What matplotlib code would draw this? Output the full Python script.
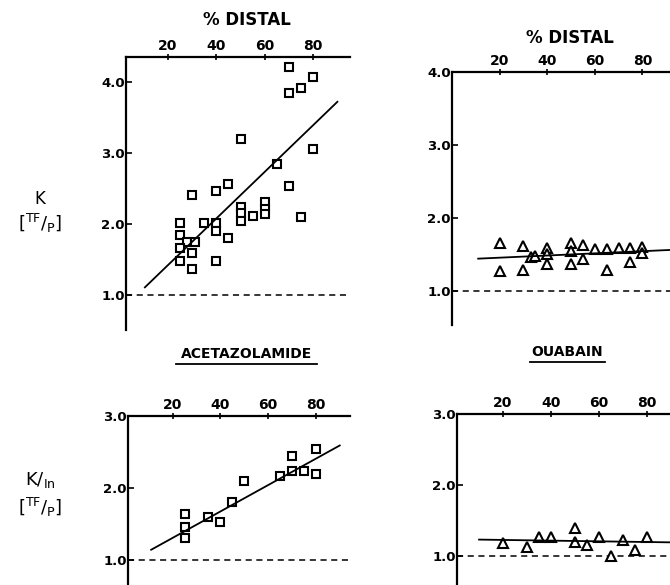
import numpy as np
import matplotlib.pyplot as plt
from matplotlib.lines import Line2D

# % distal vs K TF/P, control (squares)
ctl_x = [70, 80, 75, 70, 50, 80, 65, 70, 45, 40, 30, 60, 50, 50, 60, 60, 55, 50, 75,
         25, 35, 40, 40, 45, 25, 28, 31, 25, 30, 25, 40, 30]
ctl_y = [4.21, 4.07, 3.91, 3.85, 3.19, 3.05, 2.84, 2.53, 2.57, 2.47, 2.41, 2.31, 2.24, 2.15,
         2.21, 2.14, 2.11, 2.04, 2.10, 2.01, 2.02, 2.02, 1.90, 1.81, 1.85, 1.75, 1.75, 1.66,
         1.59, 1.48, 1.48, 1.37]
ctl_fit_x = [10.5, 90]
ctl_fit_y = [1.11, 3.72]

# % distal vs K TF/P (triangles)
trg_x = [20, 20, 30, 30, 33, 35, 40, 40, 40, 50, 50, 50, 55, 55, 60, 65, 65, 70, 75, 75, 80, 80]
trg_y = [1.66, 1.27, 1.61, 1.28, 1.46, 1.47, 1.59, 1.50, 1.37, 1.65, 1.54, 1.37, 1.63, 1.44,
         1.57, 1.57, 1.28, 1.59, 1.59, 1.40, 1.60, 1.52]
trg_fit_x = [11, 92]
trg_fit_y = [1.44, 1.56]

# acetazolamide, K/In TF/P
acz_x = [25, 25, 25, 35, 40, 45, 50, 65, 70, 70, 75, 80, 80]
acz_y = [1.64, 1.45, 1.31, 1.59, 1.53, 1.80, 2.09, 2.17, 2.45, 2.24, 2.24, 2.54, 2.19]
acz_fit_x = [11, 90]
acz_fit_y = [1.14, 2.59]

# ouabain, K/In TF/P
oua_x = [20, 30, 35, 40, 50, 50, 55, 60, 65, 70, 75, 80]
oua_y = [1.18, 1.13, 1.27, 1.27, 1.40, 1.19, 1.15, 1.27, 1.00, 1.22, 1.09, 1.26]
oua_fit_x = [10, 92]
oua_fit_y = [1.23, 1.19]

xticks = [20, 40, 60, 80]

W, H = 670, 585
fig = plt.figure(figsize=(6.7, 5.85), dpi=100)
plt.rcParams['font.family'] = ['DejaVu Sans']
plt.rcParams['mathtext.fontset'] = 'dejavusans'


def make_ax(left, top, right, bottom, xlim, ylim, yticks):
    ax = fig.add_axes([left / W, 1 - bottom / H, (right - left) / W, (bottom - top) / H])
    ax.set_xlim(*xlim)
    ax.set_ylim(*ylim)
    ax.spines['right'].set_visible(False)
    ax.spines['bottom'].set_visible(False)
    ax.spines['left'].set_linewidth(1.6)
    ax.spines['top'].set_linewidth(1.6)
    ax.xaxis.tick_top()
    ax.set_xticks(xticks)
    ax.set_yticks(yticks)
    ax.set_yticklabels(['%.1f' % v for v in yticks])
    ax.tick_params(axis='x', direction='inout', length=4, width=1.2, labelsize=10, pad=1)
    ax.tick_params(axis='y', direction='in', length=4, width=1.2, labelsize=9.5, pad=1)
    for lab in ax.get_xticklabels() + ax.get_yticklabels():
        lab.set_fontweight('semibold')
    ax.axhline(1.0, color='black', lw=1.1, ls=(0, (4, 3)))
    return ax


def scatter(ax, x, y, fx, fy, marker):
    ax.plot(x, y, ls='none', marker=marker, ms=6 if marker == 's' else 7,
            mfc='white', mec='black', mew=1.5, clip_on=False)
    ax.plot(fx, fy, color='black', lw=1.3)


ax1 = make_ax(126, 57, 350, 330, (2.7, 95.2), (0.51, 4.35), [1.0, 2.0, 3.0, 4.0])
scatter(ax1, ctl_x, ctl_y, ctl_fit_x, ctl_fit_y, 's')

ax2 = make_ax(452, 72, 670, 325, (0, 91.6), (0.53, 4.0), [1.0, 2.0, 3.0, 4.0])
scatter(ax2, trg_x, trg_y, trg_fit_x, trg_fit_y, '^')

ax3 = make_ax(128, 416, 350, 585, (1.3, 94.3), (0.65, 3.0), [1.0, 2.0, 3.0])
scatter(ax3, acz_x, acz_y, acz_fit_x, acz_fit_y, 's')

ax4 = make_ax(457, 414, 670, 585, (0.8, 89.6), (0.59, 3.0), [1.0, 2.0, 3.0])
scatter(ax4, oua_x, oua_y, oua_fit_x, oua_fit_y, '^')

fig.text(247 / W, 1 - 20 / H, '% DISTAL', ha='center', va='center', fontsize=12,
         fontweight='semibold')
fig.text(570 / W, 1 - 38 / H, '% DISTAL', ha='center', va='center', fontsize=12,
         fontweight='semibold')
fig.text(247 / W, 1 - 354 / H, 'ACETAZOLAMIDE', ha='center', va='center', fontsize=10,
         fontweight='semibold')
fig.text(567 / W, 1 - 352 / H, 'OUABAIN', ha='center', va='center', fontsize=10,
         fontweight='semibold')
fig.add_artist(Line2D([176 / W, 317 / W], [1 - 364 / H, 1 - 364 / H], color='black', lw=1.3))
fig.add_artist(Line2D([530 / W, 605 / W], [1 - 362 / H, 1 - 362 / H], color='black', lw=1.3))

fig.text(40 / W, 1 - 199 / H, 'K', ha='center', va='center', fontsize=12)
fig.text(40 / W, 1 - 223 / H, r'$[{}^{\mathrm{TF}}/_{\mathrm{P}}]$',
         ha='center', va='center', fontsize=13)
fig.text(40 / W, 1 - 480 / H, r'$\mathrm{K}/_{\mathrm{In}}$', ha='center', va='center', fontsize=13)
fig.text(40 / W, 1 - 507 / H, r'$[{}^{\mathrm{TF}}/_{\mathrm{P}}]$',
         ha='center', va='center', fontsize=13)

fig.savefig('out.png', dpi=100)
